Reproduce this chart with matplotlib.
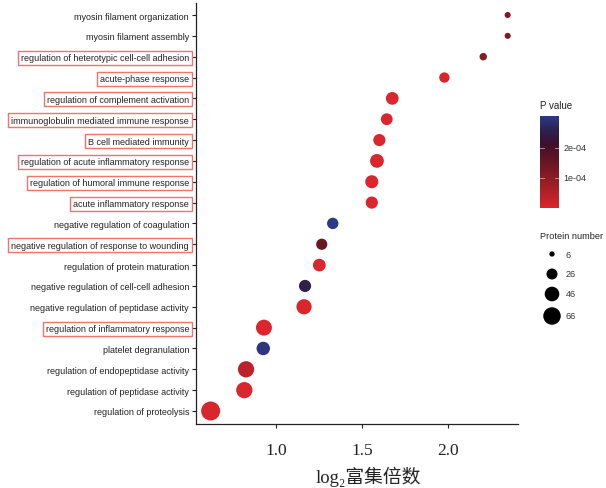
import numpy as np
import matplotlib
matplotlib.use("Agg")
import matplotlib.pyplot as plt
from matplotlib.colors import LinearSegmentedColormap, Normalize
from matplotlib.patches import Rectangle

# GO terms, bottom to top
terms = [
    "regulation of proteolysis",
    "regulation of peptidase activity",
    "regulation of endopeptidase activity",
    "platelet degranulation",
    "regulation of inflammatory response",
    "negative regulation of peptidase activity",
    "negative regulation of cell-cell adhesion",
    "regulation of protein maturation",
    "negative regulation of response to wounding",
    "negative regulation of coagulation",
    "acute inflammatory response",
    "regulation of humoral immune response",
    "regulation of acute inflammatory response",
    "B cell mediated immunity",
    "immunoglobulin mediated immune response",
    "regulation of complement activation",
    "acute-phase response",
    "regulation of heterotypic cell-cell adhesion",
    "myosin filament assembly",
    "myosin filament organization",
]
log2_fold = [0.62, 0.816, 0.826, 0.926, 0.930, 1.163, 1.169, 1.252, 1.266, 1.330,
             1.557, 1.557, 1.587, 1.601, 1.644, 1.676, 1.979, 2.205, 2.347, 2.347]
protein_num = [78, 57, 57, 39, 55, 50, 32, 35, 27, 28,
               32, 37, 41, 32, 30, 35, 23, 12, 8, 8]
p_value = [2e-6, 1e-6, 4e-5, 2.95e-4, 1e-6, 1e-6, 2.5e-4, 1e-6, 1.5e-4, 3.0e-4,
           1e-6, 1e-6, 1e-6, 1e-6, 1e-6, 1e-6, 5e-6, 1.05e-4, 1.2e-4, 1.2e-4]
highlighted = [
    "regulation of heterotypic cell-cell adhesion",
    "acute-phase response",
    "regulation of complement activation",
    "immunoglobulin mediated immune response",
    "B cell mediated immunity",
    "regulation of acute inflammatory response",
    "regulation of humoral immune response",
    "acute inflammatory response",
    "negative regulation of response to wounding",
    "regulation of inflammatory response",
]
size_breaks = [6, 26, 46, 66]
p_ticks = [1e-4, 2e-4]
p_tick_labels = ["1e-04", "2e-04"]

cmap = LinearSegmentedColormap.from_list(
    "pv", [(0.0, "#da262c"), (0.33, "#8a1c24"), (0.55, "#5c1424"),
           (0.7, "#3c1030"), (0.85, "#2c2450"), (1.0, "#2d3b8c")])
norm = Normalize(vmin=0, vmax=3.05e-4)


def size_of(n):
    return 2.4 * np.asarray(n, dtype=float)


W, H = 606, 489
fig = plt.figure(figsize=(W / 100, H / 100), dpi=100)


def fbox(x0, y0, x1, y1):
    # pixel box (top-left origin) -> figure fraction rect
    return [x0 / W, 1 - y1 / H, (x1 - x0) / W, (y1 - y0) / H]


ax = fig.add_axes(fbox(196, 3.5, 518, 424.5))
ypos = np.arange(len(terms))
ax.scatter(log2_fold, ypos, s=size_of(protein_num), c=p_value, cmap=cmap, norm=norm,
           edgecolors="none", zorder=3)
ax.set_xlim(0.535, 2.407)
ax.set_ylim(-0.6, len(terms) - 0.4)
ax.set_yticks(ypos)
ax.set_yticklabels(terms, fontsize=6.5, family="Liberation Sans", color="#222222")
ax.set_xticks([1.0, 1.5, 2.0])
ax.set_xticklabels(["1.0", "1.5", "2.0"], fontsize=12.5, family="Liberation Serif",
                   color="#222222")
for s in ["top", "right"]:
    ax.spines[s].set_visible(False)
for s in ["left", "bottom"]:
    ax.spines[s].set_linewidth(0.9)
    ax.spines[s].set_color("#222222")
ax.tick_params(axis="y", length=3, width=0.8, pad=2, color="#222222")
ax.tick_params(axis="x", length=3, width=0.8, pad=10, color="#222222")

fig.text(368 / W, 1 - 477 / H, "log\u2082富集倍数", fontsize=13.5,
         family=["Liberation Serif", "Noto Sans CJK SC"], ha="center", va="center",
         color="#222222")

# red boxes around highlighted labels
fig.canvas.draw()
renderer = fig.canvas.get_renderer()
for lab in ax.get_yticklabels():
    if lab.get_text() in highlighted:
        bb = lab.get_window_extent(renderer)
        pad_x, pad_y = 3, 2.5
        fig.patches.append(Rectangle(
            ((bb.x0 - pad_x) / W, (bb.y0 - pad_y) / H),
            (bb.width + pad_x + 3) / W, (bb.height + 2 * pad_y) / H,
            transform=fig.transFigure, fill=False, edgecolor="#f2736b",
            linewidth=1.0, zorder=5))

# P value colorbar
fig.text(540 / W, 1 - 106 / H, "P value", fontsize=7, family="Liberation Sans",
         ha="left", va="center", color="#222222")
cax = fig.add_axes(fbox(540, 117, 559, 209))
grad = np.linspace(norm.vmin, norm.vmax, 256).reshape(-1, 1)
cax.imshow(grad, aspect="auto", origin="lower", cmap=cmap, norm=norm,
           extent=[0, 1, norm.vmin, norm.vmax])
cax.set_xlim(0, 1)
cax.set_ylim(norm.vmin, norm.vmax)
cax.set_xticks([])
cax.set_yticks([])
for s in cax.spines.values():
    s.set_visible(False)
for t, lab in zip(p_ticks, p_tick_labels):
    cax.plot([0, 0.2], [t, t], color="white", lw=0.6, alpha=0.6)
    cax.plot([0.8, 1], [t, t], color="white", lw=0.6, alpha=0.6)
    cax.text(1.25, t, lab, fontsize=6.5, family="Liberation Sans", va="center",
             ha="left", color="#333333", transform=cax.get_yaxis_transform())

# Protein number legend
fig.text(540 / W, 1 - 237 / H, "Protein number", fontsize=6.6, family="Liberation Sans",
         ha="left", va="center", color="#222222")
lax = fig.add_axes(fbox(540, 245, 600, 327))
lax.set_xlim(0, 60)
lax.set_ylim(327, 245)
leg_y = [255, 275, 295, 317]
lax.scatter([12] * len(size_breaks), leg_y, s=size_of(size_breaks), c="black",
            edgecolors="none")
for yv, n in zip(leg_y, size_breaks):
    lax.text(26, yv, str(n), fontsize=6.5, family="Liberation Sans", va="center",
             ha="left", color="#333333")
lax.axis("off")

fig.savefig("out.png", dpi=100)
